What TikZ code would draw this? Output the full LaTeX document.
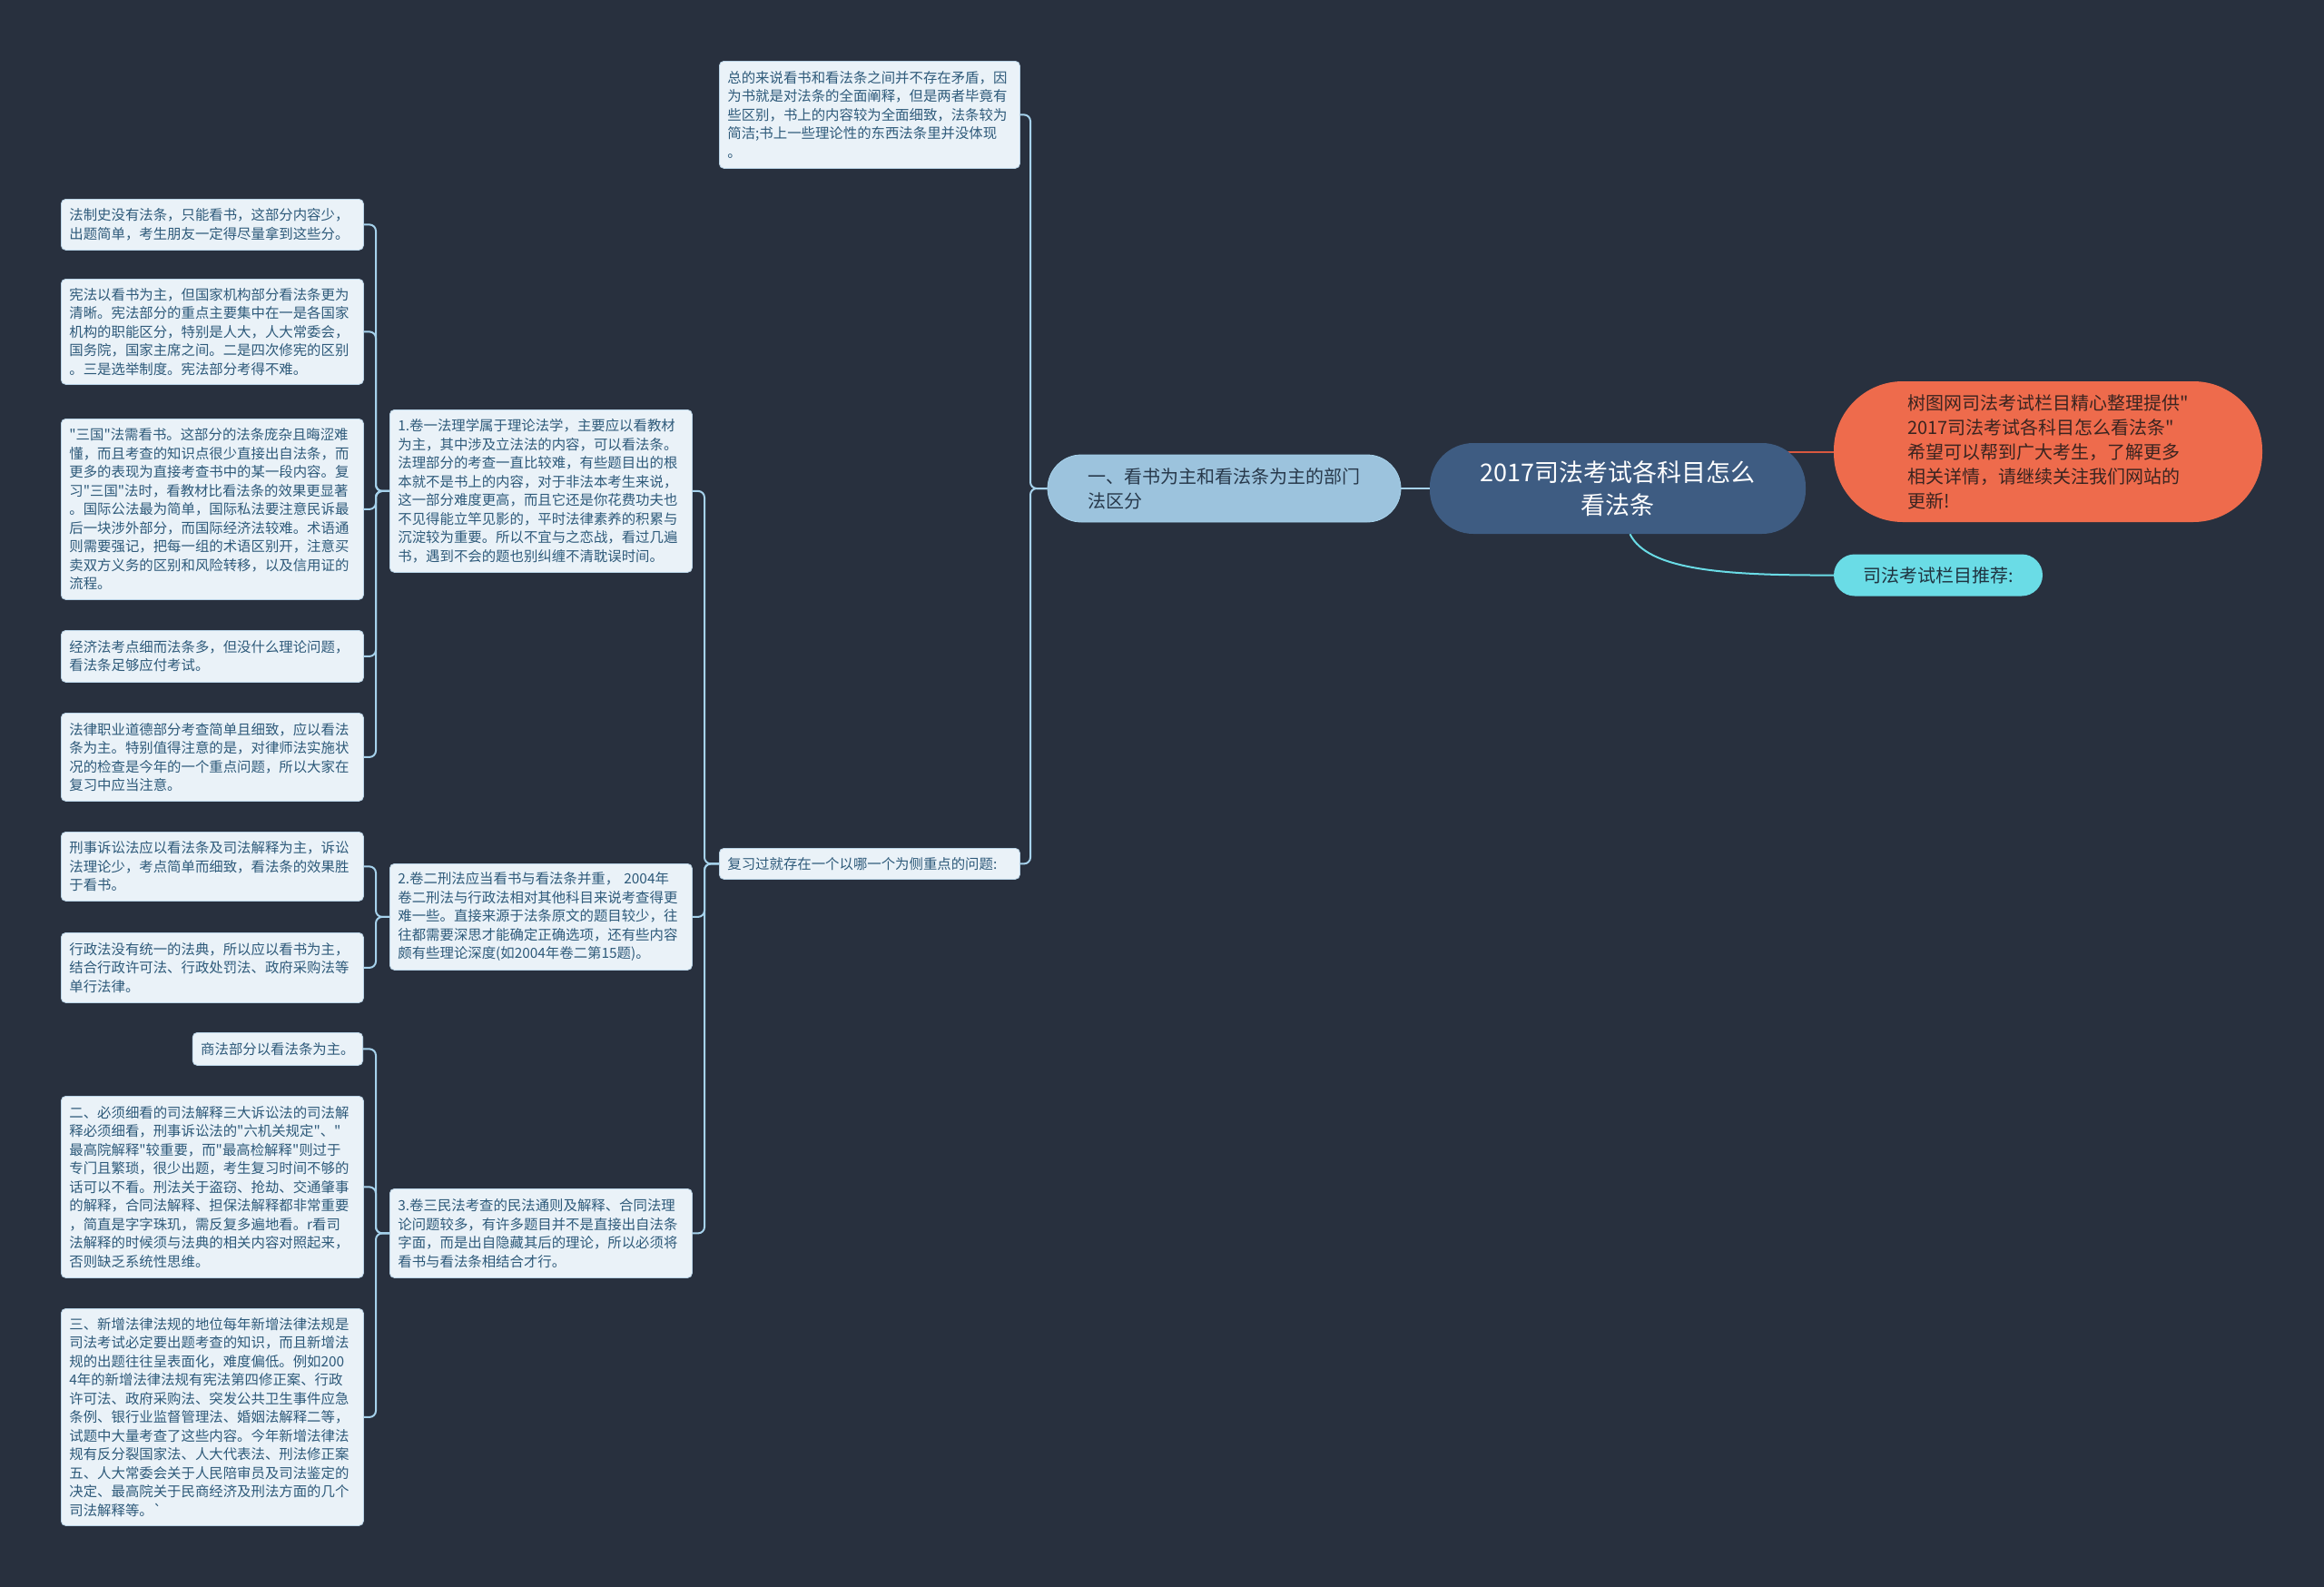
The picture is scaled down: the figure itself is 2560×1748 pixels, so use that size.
\documentclass[tikz,border=0pt]{standalone}
\usepackage{fontspec}
\setmainfont{Noto Sans CJK SC}[Ligatures=TeXOff]
\usetikzlibrary{backgrounds}
\definecolor{bgc}{HTML}{28303E}
\definecolor{leaffill}{HTML}{EAF2F8}
\definecolor{leafborder}{HTML}{B9D3E6}
\definecolor{leaftext}{HTML}{2E5A7A}
\definecolor{connc}{HTML}{A6D2EC}
\definecolor{yifill}{HTML}{9CC3DD}
\definecolor{yitext}{HTML}{27384A}
\definecolor{centerfill}{HTML}{3E5C82}
\definecolor{orangefill}{HTML}{EE6B4C}
\definecolor{orangeline}{HTML}{D9583F}
\definecolor{orangetext}{HTML}{3A2420}
\definecolor{cyanfill}{HTML}{6ADCE6}
\definecolor{cyantext}{HTML}{1F3340}
\begin{document}
\begin{tikzpicture}[x=1pt,y=-1pt,
  leaf/.style={draw=leafborder, line width=0.8pt, fill=leaffill, rounded corners=5pt,
    text=leaftext, font=\fontsize{15.4}{20.5}\selectfont, align=left,
    inner xsep=9pt, inner ysep=0pt, anchor=north west},
  leafw/.style={leaf, minimum width=333pt, text width=315pt},
  conn/.style={draw=connc, line width=2pt, rounded corners=7pt},
  pill/.style={rounded corners=#1, inner sep=0pt, align=left}
]
\useasboundingbox (0,0) rectangle (2560,1748);
\begin{pgfonlayer}{background}
\fill[bgc] (0,0) rectangle (2560,1748);
\end{pgfonlayer}

% central and right-hand nodes
\node[pill=48pt, fill=centerfill, text=white, align=center,
  minimum width=414pt, minimum height=100pt,
  font=\fontsize{27}{36}\selectfont] (center) at (1782,538)
  {2017司法考试各科目怎么\\看法条};
\node[pill=37pt, fill=yifill, text=yitext, draw=connc, line width=0.8pt,
  minimum width=389pt, minimum height=74pt,
  font=\fontsize{20}{27}\selectfont] (yi) at (1348.5,538)
  {一、看书为主和看法条为主的部门\\法区分};
\node[pill=76pt, fill=orangefill, text=orangetext,
  minimum width=472pt, minimum height=155pt,
  font=\fontsize{20}{27}\selectfont] (orange) at (2256,497.5)
  {树图网司法考试栏目精心整理提供"\\2017司法考试各科目怎么看法条"\\希望可以帮到广大考生，了解更多\\相关详情，请继续关注我们网站的\\更新!};
\node[pill=23pt, fill=cyanfill, text=cyantext,
  minimum width=230pt, minimum height=46pt,
  font=\fontsize{20}{27}\selectfont] (cyan) at (2135,633.5)
  {司法考试栏目推荐:};

% second level
\node[leaf, minimum width=331pt, text width=313pt, minimum height=118pt] (top) at (792,67)
  {总的来说看书和看法条之间并不存在矛盾，因\\为书就是对法条的全面阐释，但是两者毕竟有\\些区别，书上的内容较为全面细致，法条较为\\简洁;书上一些理论性的东西法条里并没体现\\。};
\node[leaf, minimum width=331pt, text width=313pt, minimum height=34pt] (fx) at (792,934)
  {复习过就存在一个以哪一个为侧重点的问题:};

% third level
\node[leafw, minimum height=179pt] (j1) at (429,451)
  {1.卷一法理学属于理论法学，主要应以看教材\\为主，其中涉及立法法的内容，可以看法条。\\法理部分的考查一直比较难，有些题目出的根\\本就不是书上的内容，对于非法本考生来说，\\这一部分难度更高，而且它还是你花费功夫也\\不见得能立竿见影的，平时法律素养的积累与\\沉淀较为重要。所以不宜与之恋战，看过几遍\\书，遇到不会的题也别纠缠不清耽误时间。};
\node[leafw, minimum height=117pt] (j2) at (429,951)
  {2.卷二刑法应当看书与看法条并重， 2004年\\卷二刑法与行政法相对其他科目来说考查得更\\难一些。直接来源于法条原文的题目较少，往\\往都需要深思才能确定正确选项，还有些内容\\颇有些理论深度(如2004年卷二第15题)。};
\node[leafw, minimum height=98pt] (j3) at (429,1309)
  {3.卷三民法考查的民法通则及解释、合同法理\\论问题较多，有许多题目并不是直接出自法条\\字面，而是出自隐藏其后的理论，所以必须将\\看书与看法条相结合才行。};

% leaves of j1
\node[leafw, minimum height=56pt] (a1) at (67,219)
  {法制史没有法条，只能看书，这部分内容少，\\出题简单，考生朋友一定得尽量拿到这些分。};
\node[leafw, minimum height=116pt] (a2) at (67,307)
  {宪法以看书为主，但国家机构部分看法条更为\\清晰。宪法部分的重点主要集中在一是各国家\\机构的职能区分，特别是人大，人大常委会，\\国务院，国家主席之间。二是四次修宪的区别\\。三是选举制度。宪法部分考得不难。};
\node[leafw, minimum height=199pt] (a3) at (67,461)
  {"三国"法需看书。这部分的法条庞杂且晦涩难\\懂，而且考查的知识点很少直接出自法条，而\\更多的表现为直接考查书中的某一段内容。复\\习"三国"法时，看教材比看法条的效果更显著\\。国际公法最为简单，国际私法要注意民诉最\\后一块涉外部分，而国际经济法较难。术语通\\则需要强记，把每一组的术语区别开，注意买\\卖双方义务的区别和风险转移，以及信用证的\\流程。};
\node[leafw, minimum height=57pt] (a4) at (67,694)
  {经济法考点细而法条多，但没什么理论问题，\\看法条足够应付考试。};
\node[leafw, minimum height=97pt] (a5) at (67,785)
  {法律职业道德部分考查简单且细致，应以看法\\条为主。特别值得注意的是，对律师法实施状\\况的检查是今年的一个重点问题，所以大家在\\复习中应当注意。};

% leaves of j2
\node[leafw, minimum height=76pt] (b1) at (67,916)
  {刑事诉讼法应以看法条及司法解释为主，诉讼\\法理论少，考点简单而细致，看法条的效果胜\\于看书。};
\node[leafw, minimum height=77pt] (b2) at (67,1027)
  {行政法没有统一的法典，所以应以看书为主，\\结合行政许可法、行政处罚法、政府采购法等\\单行法律。};

% leaves of j3
\node[leaf, anchor=north east, minimum height=36pt] (c1) at (400,1137)
  {商法部分以看法条为主。};
\node[leafw, minimum height=200pt] (c2) at (67,1207)
  {二、必须细看的司法解释三大诉讼法的司法解\\释必须细看，刑事诉讼法的"六机关规定"、"\\最高院解释"较重要，而"最高检解释"则过于\\专门且繁琐，很少出题，考生复习时间不够的\\话可以不看。刑法关于盗窃、抢劫、交通肇事\\的解释，合同法解释、担保法解释都非常重要\\，简直是字字珠玑，需反复多遍地看。r看司\\法解释的时候须与法典的相关内容对照起来，\\否则缺乏系统性思维。};
\node[leafw, minimum height=239pt] (c3) at (67,1441)
  {三、新增法律法规的地位每年新增法律法规是\\司法考试必定要出题考查的知识，而且新增法\\规的出题往往呈表面化，难度偏低。例如200\\4年的新增法律法规有宪法第四修正案、行政\\许可法、政府采购法、突发公共卫生事件应急\\条例、银行业监督管理法、婚姻法解释二等，\\试题中大量考查了这些内容。今年新增法律法\\规有反分裂国家法、人大代表法、刑法修正案\\五、人大常委会关于人民陪审员及司法鉴定的\\决定、最高院关于民商经济及刑法方面的几个\\司法解释等。`};

% connectors
\coordinate (s1) at (1135,0);
\coordinate (s2) at (776,0);
\coordinate (s3) at (414,0);
\begin{pgfonlayer}{background}
\draw[conn] (center.center) -- (yi.east);
\draw[draw=orangeline, line width=2pt] (center.center |- orange.west) -- (orange.west);
\draw[draw=cyanfill, line width=2pt] (center.-75) .. controls (1815,628) and (1900,634) .. (cyan.west);
\foreach \t in {top,fx}{
  \draw[conn] (yi.west) -- (yi.west -| s1) |- (\t.east);
}
\foreach \t in {j1,j2,j3}{
  \draw[conn] (fx.west) -- (fx.west -| s2) |- (\t.east);
}
\foreach \t in {a1,a2,a3,a4,a5}{
  \draw[conn] (j1.west) -- (j1.west -| s3) |- (\t.east);
}
\foreach \t in {b1,b2}{
  \draw[conn] (j2.west) -- (j2.west -| s3) |- (\t.east);
}
\foreach \t in {c1,c2,c3}{
  \draw[conn] (j3.west) -- (j3.west -| s3) |- (\t.east);
}
\end{pgfonlayer}
\end{tikzpicture}
\end{document}
